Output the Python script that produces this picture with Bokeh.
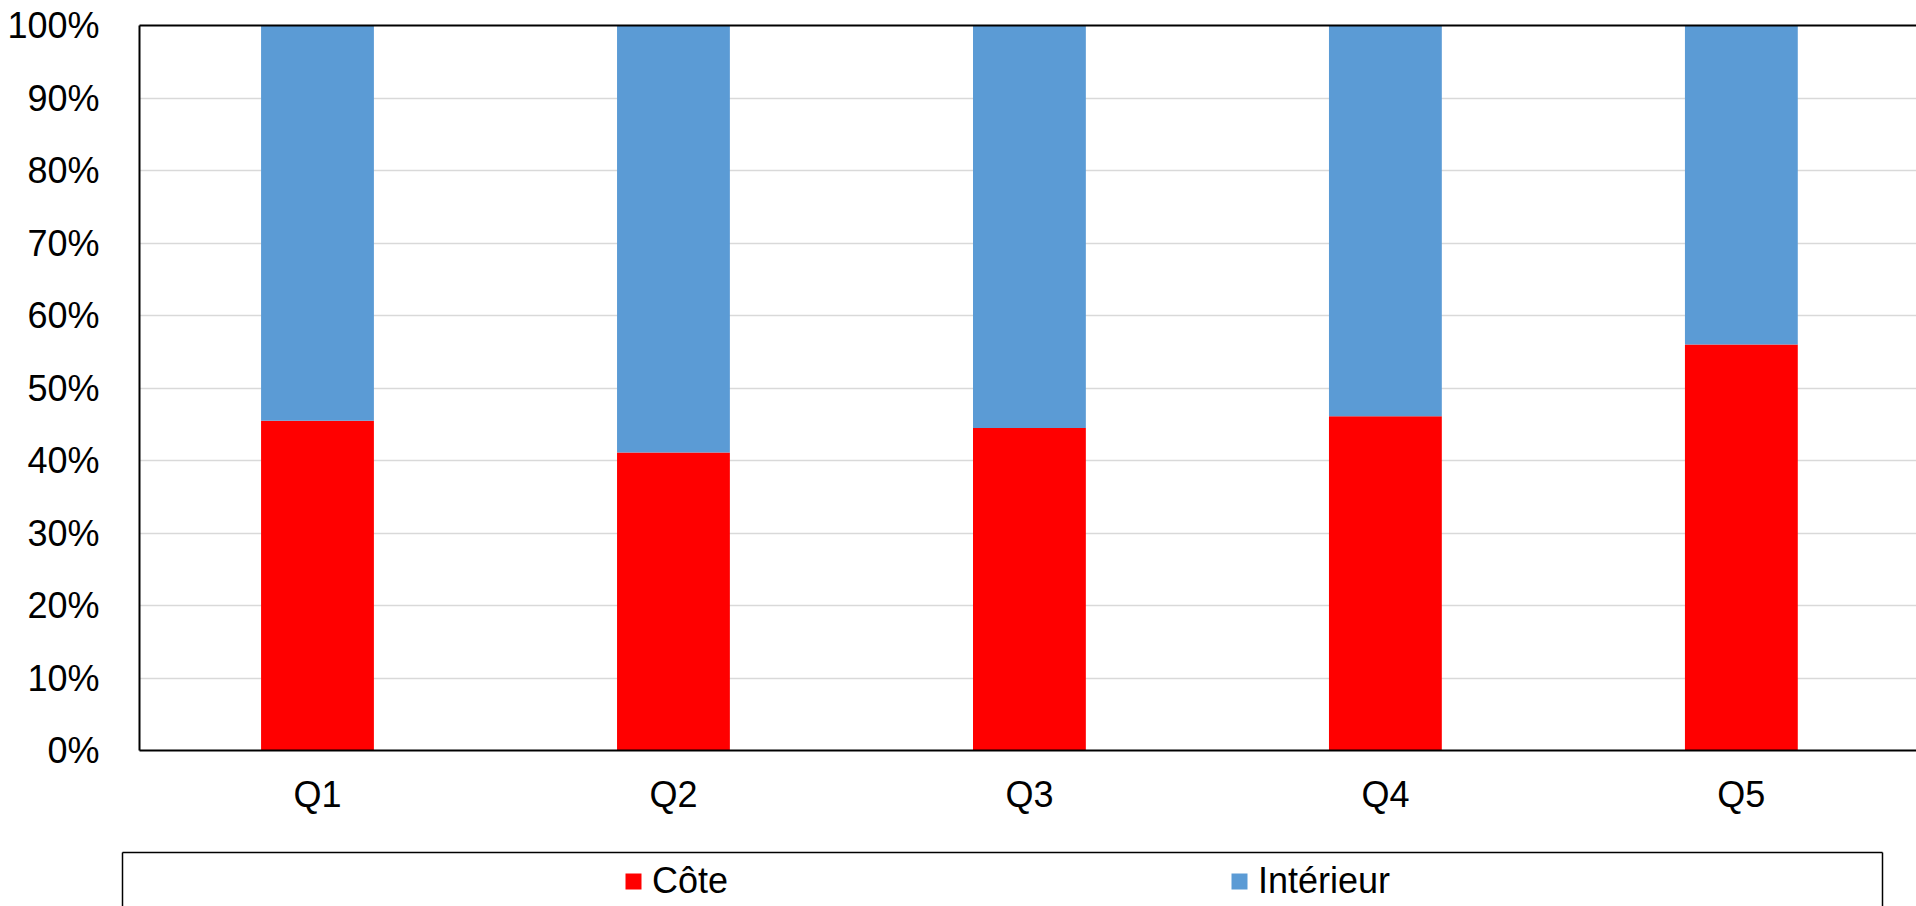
from bokeh.plotting import figure
from bokeh.layouts import column
from bokeh.models import (ColumnDataSource, FixedTicker, PrintfTickFormatter, Legend, LegendItem,
                          LinearAxis, Range1d)
from bokeh.embed import file_html
from bokeh.resources import INLINE

categories = ["Q1", "Q2", "Q3", "Q4", "Q5"]
cote = [45.5, 41.1, 44.5, 46.1, 56.0]
interieur = [54.5, 58.9, 55.5, 53.9, 44.0]
y_ticks = [0, 10, 20, 30, 40, 50, 60, 70, 80, 90, 100]
series = ["Côte", "Intérieur"]
colors = ["#FF0000", "#5B9BD5"]

FONT = "Liberation Sans"
positions = list(range(1, len(categories) + 1))
source = ColumnDataSource(dict(x=positions, cote=cote, interieur=interieur))

p = figure(width=1916, height=830, output_backend="svg", toolbar_location=None,
           x_range=Range1d(0.5, 5.492), y_range=Range1d(0, 100),
           min_border_left=139, min_border_top=25, min_border_right=0, min_border_bottom=80,
           frame_align=False)
p.outline_line_color = None

renderers = p.vbar_stack(["cote", "interieur"], x="x", width=0.317, source=source,
                         color=colors, line_color=None)

p.xaxis.ticker = FixedTicker(ticks=positions)
p.xaxis.major_label_overrides = {pos: c for pos, c in zip(positions, categories)}
p.xaxis.major_tick_line_color = None
p.xaxis.minor_tick_line_color = None
p.xaxis.axis_line_color = "black"
p.xaxis.axis_line_width = 2
p.xaxis.major_label_text_font = FONT
p.xaxis.major_label_text_font_size = "36px"
p.xaxis.major_label_text_color = "black"
p.xaxis.major_label_standoff = 17

p.yaxis.ticker = FixedTicker(ticks=y_ticks)
p.yaxis.formatter = PrintfTickFormatter(format="%d%%")
p.yaxis.major_tick_line_color = None
p.yaxis.minor_tick_line_color = None
p.yaxis.axis_line_color = "black"
p.yaxis.axis_line_width = 2
p.yaxis.major_label_text_font = FONT
p.yaxis.major_label_text_font_size = "36px"
p.yaxis.major_label_text_color = "black"
p.yaxis.major_label_standoff = 34

top_axis = LinearAxis(ticker=FixedTicker(ticks=[]), axis_line_color="black", axis_line_width=2,
                      major_tick_line_color=None, minor_tick_line_color=None)
p.add_layout(top_axis, "above")

p.xgrid.grid_line_color = None
p.ygrid.ticker = FixedTicker(ticks=y_ticks)
p.ygrid.grid_line_color = "#d9d9d9"
p.ygrid.grid_line_width = 1.5

# legend panel
lf = figure(width=1916, height=76, output_backend="svg", toolbar_location=None,
            x_range=Range1d(100, 101), y_range=Range1d(0, 100),
            x_axis_location=None, y_axis_location=None,
            min_border_left=122, min_border_right=34, min_border_top=22, min_border_bottom=0,
            frame_align=False)
lf.outline_line_color = None
lf.grid.visible = False
lr = lf.vbar_stack(["cote", "interieur"], x="x", width=0.317, source=source,
                   color=colors, line_color=None)
for side in ["left", "right", "above"]:
    ax = LinearAxis(ticker=FixedTicker(ticks=[]), axis_line_color="black", axis_line_width=1.5,
                    major_tick_line_color=None, minor_tick_line_color=None)
    lf.add_layout(ax, side)

legend = Legend(items=[LegendItem(label=series[0], renderers=[lr[0]]),
                       LegendItem(label=series[1], renderers=[lr[1]])],
                orientation="horizontal", location=(501, 4), padding=0, spacing=501,
                glyph_width=20, glyph_height=20, label_standoff=9, margin=0,
                label_text_font=FONT, label_text_font_size="36px", label_text_color="black",
                border_line_alpha=0, background_fill_alpha=0)
lf.add_layout(legend, "center")

layout = column(p, lf, spacing=0)
open("out.html", "w").write(file_html(layout, INLINE))
